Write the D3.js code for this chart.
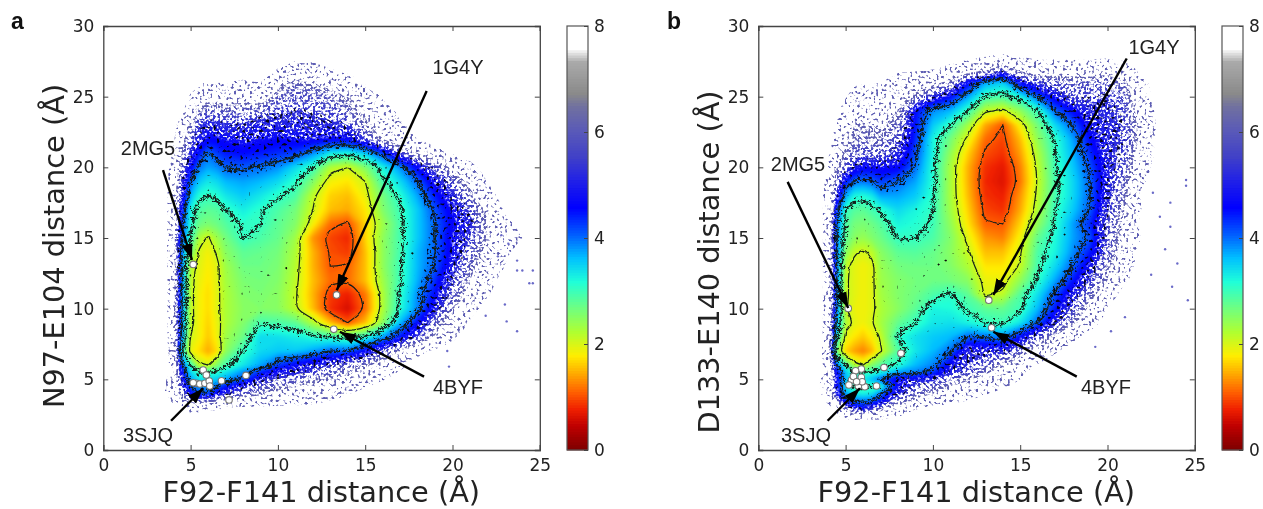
<!DOCTYPE html>
<html><head><meta charset="utf-8">
<script src="https://cdn.jsdelivr.net/npm/d3@7"></script>
<style>
html,body{margin:0;padding:0;background:#fff}
svg{display:block;filter:blur(0.45px)}
.tick text{font-family:"DejaVu Sans";font-size:17px;fill:#222}
.axis path,.axis line{stroke:#444}
</style></head><body>
<svg id="c" width="1263" height="509"></svg>
<script>
const gridX=[3,3.5,4,4.5,5,5.5,6,6.5,7,8,9,10,11,12,13,14,15,16,17,18,19,20,21,22,23,24,25];
const gridY=[28,27,26,25,24,23,22,21,20,19,18,17,16,15,14,13,12,11,10,9,8,7,6,5.5,5,4.5,4,3.5,3,2];
const gridA=[
[8,8,8,8,8,8,8,8,8,8,8,8,8,8,8,8,8,8,8,8,8,8,8,8,8,8,8],
[8,8,8,8,8,8,8,8,8,8,8,7.6,7.2,7.3,7.6,8,8,8,8,8,8,8,8,8,8,8,8],
[8,8,8,8,8,7.8,7.5,7.6,7.6,7.5,7.6,6.5,6,6.2,6.5,7,7.6,8,8,8,8,8,8,8,8,8,8],
[8,8,8,8,7.5,6.8,6.6,6.6,6.6,6.6,6.8,5.8,5.6,5.6,5.9,6.2,6.8,7.7,8,8,8,8,8,8,8,8,8],
[8,8,8,7.8,6.8,6,5.6,5.7,5.8,5.7,5.6,5.3,5.2,5.3,5.4,5.8,6.4,7.2,7.8,8,8,8,8,8,8,8,8],
[8,8,8,7,6,5.2,4.9,5,5.1,5.1,4.9,5,4.9,5,5.1,5.2,6,6.8,7.4,7.9,8,8,8,8,8,8,8],
[8,8,7.8,6.5,5.5,4.9,4.6,4.6,4.7,4.8,4.7,4.6,4.7,4.7,4.6,4.6,5.2,6.2,7,7.6,8,8,8,8,8,8,8],
[8,8,7.4,6,5,4.4,3.95,4.2,4.4,4.5,4.4,4.3,4.2,3.8,3.3,3.2,3.5,4.2,5.2,6.2,7.2,7.7,8,8,8,8,8],
[8,8,7.2,5.6,4.6,3.9,3.7,3.8,4,4.05,3.95,3.8,3.4,3,2.2,2,2.5,3.2,3.8,4.6,5.4,6.4,7.3,8,8,8,8],
[8,8,7,5.2,4,3.5,3.3,3.4,3.6,3.7,3.6,3.4,3.05,2.5,1.8,1.7,2,2.9,3.4,4,4.8,5.5,6.6,7.6,8,8,8],
[8,8,6.9,5,3.6,3.1,3,3.1,3.3,3.5,3.3,3.05,2.85,2.1,1.6,1.5,1.85,2.6,3.1,3.7,4.4,5,5.8,7.2,8,8,8],
[8,8,6.8,4.5,3.2,2.85,2.75,2.8,3,3.25,3.05,2.85,2.6,2,1.5,1.4,1.7,2.5,2.95,3.5,4.1,4.7,5.3,6.5,7.7,8,8],
[8,8,6.8,4.2,3.1,2.65,2.55,2.65,2.8,3.05,3,2.75,2.5,1.8,1.1,0.95,1.6,2.3,2.9,3.5,4,4.6,5,6.2,7.4,7.8,8],
[8,8,6.7,4.1,3,2.2,1.95,2.3,2.6,3,2.85,2.7,2.3,1.3,0.9,0.75,1.6,2.4,2.9,3.5,4,4.7,5.2,6.2,7.3,7.6,8],
[8,8,6.7,3.9,2.6,1.95,1.8,2.05,2.45,2.75,2.7,2.6,2.2,1.45,0.95,0.85,1.5,2.4,2.9,3.6,4,4.7,5.5,6.5,7.4,8,8],
[8,8,6.7,3.9,2.15,1.9,1.75,1.9,2.3,2.65,2.65,2.55,2.15,1.45,1,1.05,1.5,2.4,2.95,3.6,4.05,4.9,5.8,7,7.6,8,8],
[8,8,6.7,3.9,2.1,1.85,1.7,1.9,2.25,2.55,2.6,2.5,2.1,1.5,1.1,1.1,1.5,2.3,2.95,3.65,4.3,5.2,6.2,7.2,8,8,8],
[8,8,6.7,3.9,2.1,1.8,1.65,1.9,2.2,2.5,2.55,2.45,2.05,1.45,0.85,0.7,1.15,2.2,3.05,3.8,4.5,5.5,6.6,7.5,8,8,8],
[8,8,6.8,3.9,2.1,1.8,1.65,1.9,2.2,2.45,2.5,2.45,2.1,1.5,0.8,0.55,1.1,2.2,3.1,3.85,4.8,6,7.2,8,8,8,8],
[8,8,6.8,3.9,2.1,1.8,1.6,1.85,2.2,2.5,2.9,2.85,2.75,2.2,1.5,1,1.5,2.4,3.6,4.5,5.6,6.8,7.7,8,8,8,8],
[8,8,6.9,3.8,2,1.8,1.55,1.8,2.3,2.65,3.4,3.35,3.25,3.1,3,2.85,3.1,3.7,4.4,5.2,6.3,7.4,8,8,8,8,8],
[8,8,7,3.3,1.85,1.65,1.4,1.65,2.4,3,3.4,3.5,3.5,3.7,4,4,4.6,5.3,6.2,7.3,7.8,8,8,8,8,8,8],
[8,8,7.2,4.2,3,2.1,2,2.5,2.9,3.3,3.7,4.2,4.6,4.9,5.2,5.6,6,6.6,7.3,8,8,8,8,8,8,8,8],
[8,8,7.3,4.6,3.4,3,3,3.1,3.3,3.8,4.3,4.8,5,5.3,5.7,6,6.4,7,7.7,8,8,8,8,8,8,8,8],
[8,7.8,7,4.9,3.7,3.3,3.4,3.5,3.7,4.1,4.9,5.3,5.6,5.9,6.2,6.5,6.8,7.5,8,8,8,8,8,8,8,8,8],
[8,7.6,6.8,5.2,4,3.7,3.8,4,4.4,5,5.5,5.9,6.2,6.4,6.7,7,7.5,8,8,8,8,8,8,8,8,8,8],
[8,7.7,6.9,5.8,4.6,4.1,4.1,4.7,5,5.6,6,6.4,6.6,6.8,7.1,7.5,8,8,8,8,8,8,8,8,8,8,8],
[8,8,7.4,6.6,5.7,5.5,5.7,6,6.2,6.6,6.8,7,7.1,7.2,7.6,8,8,8,8,8,8,8,8,8,8,8,8],
[8,8,7.9,7.6,7.3,7.4,7.5,7.5,7.6,7.7,7.7,7.8,7.8,7.9,8,8,8,8,8,8,8,8,8,8,8,8,8],
[8,8,8,8,8,8,8,8,8,8,8,8,8,8,8,8,8,8,8,8,8,8,8,8,8,8,8]];
const gridB=[
[8,8,8,8,8,8,8,8,8,8,8,8,8,8,7.8,7.6,7.8,8,8,8,8,8,8,8,8,8,8],
[8,8,8,8,8,8,8,8,8,7.8,7.8,7.7,7.4,7,6.6,5.6,6.6,7,6.9,7,6.9,6.7,7.2,7.9,8,8,8],
[8,8,8,8,8,7.8,7.7,7.7,7.6,7.2,6.9,6.5,5.9,4.6,3.7,3.5,4.6,5.2,5.5,5.7,5.7,5.6,6,7.4,8,8,8],
[8,8,8,8,7.7,7,7,7,6.9,6.6,5.9,5,4.5,3.7,2.95,2.85,3.2,4,4.7,5.3,5.3,5.2,5.6,7.2,8,8,8],
[8,8,8,7.8,7,6.5,6.5,6.6,6.6,6.2,4.5,3.8,3.6,3,2.1,1.9,2.4,3,4,4.5,5,5.1,5.4,6.8,8,8,8],
[8,8,8,7.5,6.7,6.2,6.1,6.2,6.3,5.8,4.4,3.5,3,2.3,1.4,1,1.8,2.6,3.4,4,4.8,5,5.3,6.6,7.9,8,8],
[8,8,8,7.2,6.4,6,5.9,6,6,5.4,4.3,3.2,2.6,1.9,1.1,0.9,1.5,2.4,3.05,3.7,4.5,5,5.3,6.5,8,8,8],
[8,8,7.7,6.8,6,5.6,5.4,5.5,5.5,5,4.1,3.2,2.4,1.6,0.95,0.8,1.35,2.2,3,3.6,4.3,5,5.4,6.8,8,8,8],
[8,8,7.6,6.2,5.4,4.9,4.6,4.6,4.7,4.6,3.95,3.1,2.25,1.45,0.8,0.65,1.2,2.1,2.95,3.5,4.1,4.9,5.5,7.2,8,8,8],
[8,8,7.3,5.6,4.4,3.95,3.9,4,4.2,4,3.7,3.1,2.25,1.45,0.75,0.6,1.15,2.05,2.9,3.4,4,4.9,5.8,7.5,8,8,8],
[8,8,7,5,3.7,3.2,3.15,3.3,3.7,3.7,3.5,3.05,2.25,1.5,0.8,0.7,1.3,2.1,2.9,3.4,4,5,6,7.6,8,8,8],
[8,8,7,4.3,3,2.8,2.75,2.9,3.05,3.4,3.2,3,2.3,1.6,0.9,0.8,1.4,2.2,3,3.5,4.05,5.1,6.2,7.7,8,8,8],
[8,8,7,4,2.85,2.6,2.55,2.65,2.8,3.2,3.1,2.95,2.4,1.7,1.05,1,1.6,2.4,3.05,3.7,4.3,5.4,6.4,8,8,8,8],
[8,8,7,3.95,2.75,2.45,2.35,2.5,2.65,3,3,2.85,2.5,1.9,1.3,1.2,1.8,2.7,3.15,3.7,4.1,5.4,6.5,7.7,8,8,8],
[8,8,7,3.95,2.45,2.05,1.95,2.1,2.45,2.75,2.8,2.7,2.45,2.05,1.5,1.5,1.95,2.85,3.2,3.8,4.4,5.4,6.8,8,8,8,8],
[8,8,7,3.95,2.1,1.9,1.8,1.9,2.35,2.6,2.65,2.65,2.5,2.2,1.7,1.7,2.05,2.9,3.4,4,4.8,6,7.2,8,8,8,8],
[8,8,7,3.95,2.05,1.9,1.8,1.9,2.3,2.5,2.6,2.65,2.6,2.45,1.85,1.85,2.4,3.05,3.7,4.4,5.2,6.2,7.5,8,8,8,8],
[8,8,7,3.95,2.05,1.9,1.8,1.9,2.25,2.5,2.65,2.85,3.05,2.75,1.95,2.1,2.8,3.35,4.1,4.9,5.8,7,8,8,8,8,8],
[8,8,7,3.95,2.05,1.85,1.8,1.9,2.2,2.45,2.75,3.2,3.15,2.95,2.75,2.7,2.95,3.6,4.4,5.3,6.4,7.6,8,8,8,8,8],
[8,8,7,3.7,2.2,1.9,1.8,1.95,2.25,2.7,3,3.3,3.35,3.2,3,2.95,3.3,4,5,6,7.1,8,8,8,8,8,8],
[8,8,6.9,3.2,1.9,1.7,1.55,1.75,2.05,3.05,3.35,3.5,3.6,4,3.95,3.8,4.5,5.4,6.3,7.3,8,8,8,8,8,8,8],
[8,8,6.6,2.5,1.6,1.35,1.2,1.45,1.95,2.8,3.3,3.6,3.95,5,5,5,5.6,6.6,7.5,8,8,8,8,8,8,8,8],
[8,8,7,4,3,2.2,2,2.5,2.8,3.1,3.6,3.85,4.7,5.2,5.6,6.2,7,7.7,8,8,8,8,8,8,8,8,8],
[8,8,7.3,4.6,3.5,3,3,3.05,3.2,3.7,3.85,4.2,5,5.4,6,6.7,7.4,8,8,8,8,8,8,8,8,8,8],
[8,7.7,7,4.6,3.6,3.2,3.3,3.6,4,4.7,4.8,5,5.6,6.1,6.6,7.1,7.6,8,8,8,8,8,8,8,8,8,8],
[8,7.6,6.8,4.7,3.3,2.9,2.9,3,3.1,4.6,5.4,5.7,6.2,6.5,7,7.4,8,8,8,8,8,8,8,8,8,8,8],
[8,7.7,6.9,4.9,3.7,3.3,3.2,3.3,3.9,5,5.8,6.2,6.6,7,7.5,8,8,8,8,8,8,8,8,8,8,8,8],
[8,8,7.3,6,4.3,3.9,3.85,4,4.4,5.6,6.3,6.9,7.2,7.6,8,8,8,8,8,8,8,8,8,8,8,8,8],
[8,8,7.9,7.2,5.5,4.9,4.5,5,5.6,6.9,7.4,7.8,8,8,8,8,8,8,8,8,8,8,8,8,8,8,8],
[8,8,8,8,8,8,8,8,8,8,8,8,8,8,8,8,8,8,8,8,8,8,8,8,8,8,8]];

const pdbA=[[5.15,13.13],[13.36,10.97],[13.2,8.54],[5.72,5.66],[6.77,4.9],[8.17,5.28],[7.2,3.54],[5.34,4.72],[5.15,4.76],[5.53,4.67],[5.82,4.72],[6.07,4.88],[5.9,5.3],[6.1,4.53]];
const pdbB=[[5.15,10.02],[13.2,10.6],[13.36,8.65],[8.17,6.84],[7.2,5.83],[6.77,4.53],[5.9,5.73],[5.57,5.6],[5.34,4.95],[5.9,5.14],[5.45,5.2],[5.19,4.6],[5.73,4.53],[6.1,4.48],[5.95,4.83],[5.63,4.83]];
const strayA=[[23,10.3],[23.1,9.1],[23.7,8.4],[24.4,11.8],[24.6,11.8],[23.7,12.7],[24,12.7],[21.9,9.5],[19.8,5.9],[19.7,7],[22.6,13.7],[23.7,13.4],[24.6,12.7],[22.8,15.2],[23.2,14.6]];
const strayB=[[23.7,11.55],[24.6,10.6],[22.5,12.4],[24,13.2],[21,9.4],[19.3,7.3],[20.2,8.4],[22.6,18.2],[23.6,17.5],[24.5,19.1],[24.5,18.7],[23,16.5],[23.3,14.2],[23.6,15.8]];
const arrowsA=[{n:"2MG5",f:[3.42,19.8],t:[5.08,13.45],l:[148,148]},{n:"1G4Y",f:[18.52,25.4],t:[13.37,11.3],l:[458,67]},{n:"4BYF",f:[18.37,5.19],t:[13.55,8.37],l:[458,387]},{n:"3SJQ",f:[3.88,2.07],t:[5.73,4.37],l:[148,435]}];
const arrowsB=[{n:"2MG5",f:[1.68,18.97],t:[5.15,10.05],l:[798,164]},{n:"1G4Y",f:[21.1,27.7],t:[13.46,10.97],l:[1154,47]},{n:"4BYF",f:[18.24,5.19],t:[13.46,8.37],l:[1106,387]},{n:"3SJQ",f:[3.97,2.07],t:[5.82,4.37],l:[806,435]}];
const cbStops=[0,0.44,0.75,1.07,1.45,1.76,2.2,2.65,3.15,3.6,4.03,4.55,5.05,5.5,6,6.45,6.7,7.3,7.55,8];
const cbColors=["#800000","#c00000","#f02000","#ff6000","#ffb000","#ffee00","#b0ff30","#70ff80","#20ffd8","#00c0ff","#0060ff","#0000ff","#2020e8","#4040c8","#5a5ab8","#7070a0","#8a8a8a","#aaaaaa","#ffffff","#ffffff"];
const contourLevels=[1,2,3,4];
const xTicks=[0,5,10,15,20,25],yTicks=[0,5,10,15,20,25,30],cbTicks=[0,2,4,6,8];

const color=d3.scaleLinear(cbStops,cbColors);
const svg=d3.select("#c");
const defs=svg.append("defs");
function filt(id){return defs.append("filter").attr("id",id).attr("filterUnits","userSpaceOnUse")
    .attr("x",0).attr("y",0).attr("width",1263).attr("height",509).attr("color-interpolation-filters","sRGB");}
function speckle(id,t,seed,freq){
  const f=filt(id);
  f.append("feTurbulence").attr("type","fractalNoise").attr("baseFrequency",freq).attr("numOctaves",1).attr("seed",seed).attr("result","n");
  f.append("feColorMatrix").attr("in","n").attr("type","matrix")
    .attr("values",`0 0 0 0 0 0 0 0 0 0 0 0 0 0 0 9 0 0 0 ${-9*t}`).attr("result","m");
  f.append("feComposite").attr("in","SourceGraphic").attr("in2","m").attr("operator","in");
}
speckle("sp3",0.57,3,0.38);speckle("sp2",0.5,5,0.38);speckle("sp1",0.43,7,0.4);speckle("spk",0.6,11,0.3);speckle("spk2",0.71,13,0.27);
function wobble(id,s,freq,seed){
  const f=filt(id);
  f.append("feTurbulence").attr("type","fractalNoise").attr("baseFrequency",freq).attr("numOctaves",2).attr("seed",seed).attr("result","n");
  f.append("feDisplacementMap").attr("in","SourceGraphic").attr("in2","n").attr("scale",s).attr("xChannelSelector","R").attr("yChannelSelector","G");
}
wobble("wsmall",3,0.2,2);wobble("wbig",7,0.25,4);wobble("wdots",16,0.3,9);
filt("soft").append("feGaussianBlur").attr("stdDeviation",1.6);
const mk=defs.append("marker").attr("id","head").attr("markerUnits","userSpaceOnUse").attr("markerWidth",17).attr("markerHeight",14)
  .attr("viewBox","0 0 17 14").attr("refX",16).attr("refY",7).attr("orient","auto");
mk.append("path").attr("d","M0,1.5L16,7L0,12.5Z").attr("fill","#000");

function panel(o){
  const x=d3.scaleLinear([0,25],[o.x0,o.x0+436.5]);
  const y=d3.scaleLinear([0,30],[450,26]);
  const n=gridX.length,m=gridY.length;
  const ix=d3.scaleLinear(gridX.map((_,i)=>i+.5),gridX.map(x));
  const iy=d3.scaleLinear(gridY.map((_,i)=>i+.5),gridY.map(y));
  const path=d3.geoPath(d3.geoTransform({point(a,b){this.stream.point(ix(a),iy(b));}}));
  const z=o.grid.flat().map(v=>8-v);
  const gen=d3.contours().size([n,m]);
  const poly=v=>path(gen.contour(z,8-v));
  const ring=d3.line().curve(d3.curveCatmullRomClosed.alpha(0.5));
  const smooth=v=>gen.contour(z,8-v).coordinates.flat().map(r=>ring(r.slice(0,-1).map(([a,b])=>[ix(a),iy(b)]))).join("");
  const g=svg.append("g");
  const layer=(vals,f,cap)=>{
    const l=g.append("g").attr("filter",f?`url(#${f})`:null);
    l.selectAll("path").data(vals).join("path").attr("d",poly).attr("fill",d=>color(Math.min(d,cap))).attr("fill-rule","evenodd");
  };
  const dn=(a,b,s)=>d3.range(a,b-1e-9,-s);
  layer(dn(7.6,4.7,.1),"sp3",6.1);
  layer(dn(6.2,4.7,.1),"sp2",6.1);
  layer(dn(5.2,4.7,.1),"sp1",6.1);
  layer(dn(4.7,0,.05),"soft",8);
  g.append("path").attr("d",poly(5.3)+poly(3.8)).attr("fill-rule","evenodd").attr("fill","#03031c").attr("filter","url(#spk)");
  g.append("path").attr("d",poly(3.5)+poly(2.1)).attr("fill-rule","evenodd").attr("fill","#0a0a0a").attr("filter","url(#spk2)");
  const lines=g.append("g").attr("fill","none").attr("stroke","#14201a").attr("stroke-width",1.2);
  contourLevels.forEach(v=>lines.append("path").attr("d",smooth(v)).attr("filter",v>2?"url(#wbig)":"url(#wsmall)"));
  [3,4].forEach(v=>lines.append("path").attr("d",smooth(v)).attr("filter","url(#wdots)").attr("stroke-dasharray","2 3").attr("stroke-width",2.2).attr("stroke-linecap","round"));
  g.append("g").selectAll("circle").data(o.stray).join("circle").attr("cx",d=>x(d[0])).attr("cy",d=>y(d[1])).attr("r",1.2).attr("fill","#6a6ac8");
  g.append("g").selectAll("circle").data(o.pdb).join("circle").attr("cx",d=>x(d[0])).attr("cy",d=>y(d[1])).attr("r",3.3).attr("fill","#fff").attr("stroke","#777").attr("stroke-width",1.1);
  g.append("g").selectAll("line").data(o.arrows).join("line")
    .attr("x1",d=>x(d.f[0])).attr("y1",d=>y(d.f[1])).attr("x2",d=>x(d.t[0])).attr("y2",d=>y(d.t[1]))
    .attr("stroke","#000").attr("stroke-width",2.4).attr("marker-end","url(#head)");
  g.append("g").selectAll("text").data(o.arrows).join("text").attr("x",d=>d.l[0]).attr("y",d=>d.l[1]).text(d=>d.n)
    .attr("text-anchor","middle").attr("dominant-baseline","central").attr("font-family","Liberation Sans").attr("font-size",20).attr("fill","#222");
  const ax=(gn,tx,ty)=>{const a=svg.append("g").attr("class","axis").attr("transform",`translate(${tx},${ty})`).call(gn);a.select(".domain").attr("stroke-width",1.3);return a;};
  ax(d3.axisBottom(x).tickValues(xTicks).tickSize(-5).tickPadding(9),0,450);
  ax(d3.axisTop(x).tickValues(xTicks).tickSize(-5).tickFormat(""),0,26);
  ax(d3.axisLeft(y).tickValues(yTicks).tickSize(-5).tickPadding(9),o.x0,0);
  ax(d3.axisRight(y).tickValues(yTicks).tickSize(-5).tickFormat(""),o.x0+436.5,0);
  svg.append("text").attr("x",o.x0+218).attr("y",502).attr("text-anchor","middle").attr("font-family","DejaVu Sans").attr("font-size",28.8).attr("fill","#222").text("F92-F141 distance (Å)");
  svg.append("text").attr("transform",`translate(${o.ylx},${o.yly}) rotate(-90)`).attr("text-anchor","middle").attr("font-family","DejaVu Sans").attr("font-size",28.8).attr("fill","#222").text(o.ylab);
  svg.append("text").attr("x",o.lx).attr("y",29).attr("font-family","Liberation Sans").attr("font-weight","bold").attr("font-size",23).attr("fill","#111").text(o.letter);
  const cb=d3.scaleLinear([0,8],[450,26]);
  svg.append("g").selectAll("rect").data(d3.range(0,8,0.05)).join("rect").attr("x",o.cbx).attr("width",21)
    .attr("y",d=>cb(d+0.05)-0.4).attr("height",d=>cb(d)-cb(d+0.05)+0.8).attr("fill",color);
  svg.append("rect").attr("x",o.cbx).attr("y",26).attr("width",21).attr("height",424).attr("fill","none").attr("stroke","#555").attr("stroke-width",1.2);
  const ca=svg.append("g").attr("class","axis").attr("transform",`translate(${o.cbx+21},0)`).call(d3.axisRight(cb).tickValues(cbTicks).tickSize(-4).tickPadding(6));
  ca.select(".domain").remove();
}
panel({x0:103.3,grid:gridA,pdb:pdbA,stray:strayA,arrows:arrowsA,ylab:"N97-E104 distance (Å)",ylx:64,yly:246,lx:11,letter:"a",cbx:567});
panel({x0:758.3,grid:gridB,pdb:pdbB,stray:strayB,arrows:arrowsB,ylab:"D133-E140 distance (Å)",ylx:719,yly:262,lx:667,letter:"b",cbx:1222});
</script>
</body></html>
